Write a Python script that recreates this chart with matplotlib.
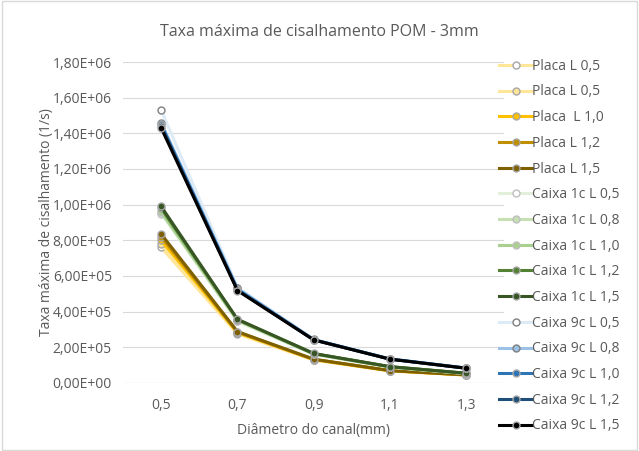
import numpy as np
import matplotlib.pyplot as plt

plt.rcParams['font.family'] = ['Open Sans', 'DejaVu Sans']

diametros = ["0,5", "0,7", "0,9", "1,1", "1,3"]

series_names = [
    "Placa L 0,5", "Placa L 0,5", "Placa  L 1,0", "Placa L 1,2", "Placa L 1,5",
    "Caixa 1c L 0,5", "Caixa 1c L 0,8", "Caixa 1c L 1,0", "Caixa 1c L 1,2", "Caixa 1c L 1,5",
    "Caixa 9c L 0,5", "Caixa 9c L 0,8", "Caixa 9c L 1,0", "Caixa 9c L 1,2", "Caixa 9c L 1,5",
]

placa_05a = [7.6e5, 2.75e5, 1.28e5, 6.7e4, 4.3e4]
placa_05b = [7.8e5, 2.78e5, 1.29e5, 6.8e4, 4.4e4]
placa_10 = [8.0e5, 2.82e5, 1.31e5, 6.8e4, 4.5e4]
placa_12 = [8.2e5, 2.85e5, 1.32e5, 6.9e4, 4.5e4]
placa_15 = [8.35e5, 2.88e5, 1.33e5, 6.9e4, 4.5e4]
caixa1_05 = [9.5e5, 3.45e5, 1.60e5, 8.8e4, 5.2e4]
caixa1_08 = [9.6e5, 3.5e5, 1.62e5, 8.9e4, 5.3e4]
caixa1_10 = [9.6e5, 3.52e5, 1.63e5, 9.0e4, 5.3e4]
caixa1_12 = [9.8e5, 3.55e5, 1.64e5, 9.1e4, 5.4e4]
caixa1_15 = [9.9e5, 3.57e5, 1.65e5, 9.1e4, 5.4e4]
caixa9_05 = [1.53e6, 5.35e5, 2.45e5, 1.35e5, 8.4e4]
caixa9_08 = [1.46e6, 5.3e5, 2.43e5, 1.34e5, 8.3e4]
caixa9_10 = [1.45e6, 5.25e5, 2.42e5, 1.34e5, 8.3e4]
caixa9_12 = [1.44e6, 5.2e5, 2.41e5, 1.33e5, 8.2e4]
caixa9_15 = [1.43e6, 5.18e5, 2.41e5, 1.33e5, 8.2e4]

all_values = [placa_05a, placa_05b, placa_10, placa_12, placa_15,
              caixa1_05, caixa1_08, caixa1_10, caixa1_12, caixa1_15,
              caixa9_05, caixa9_08, caixa9_10, caixa9_12, caixa9_15]

line_colors = ["#FFE699", "#FFE699", "#FFC000", "#BF8F00", "#7F6000",
               "#E2EFDA", "#C6E0B4", "#A9D08E", "#548235", "#375623",
               "#DDEBF7", "#9BC2E6", "#2E75B6", "#1F4E79", "#000000"]
face_colors = ["white", "#FFE699", "#FFC000", "#BF8F00", "#7F6000",
               "white", "#C6E0B4", "#A9D08E", "#548235", "#375623",
               "white", "#9BC2E6", "#2E75B6", "#1F4E79", "#000000"]
edge_colors = ["#A6A6A6", "#A6A6A6", "#A6A6A6", "#A6A6A6", "#A6A6A6",
               "#BFBFBF", "#BFBFBF", "#BFBFBF", "#A6A6A6", "#A6A6A6",
               "#7F7F7F", "#7F7F7F", "#A6A6A6", "#A6A6A6", "#A6A6A6"]


def fmt(v, pos):
    m, e = f"{v:.2E}".split("E")
    return f"{m.replace('.', ',')}E{e}"


def main():
    fig = plt.figure(figsize=(6.39, 4.51), dpi=100)
    ax = fig.add_axes([0.1925, 0.151, 0.597, 0.7115])
    x = np.arange(len(diametros))

    for name, vals, lc, fc, ec in zip(series_names, all_values, line_colors, face_colors, edge_colors):
        ax.plot(x, vals, color=lc, lw=2.2, marker="o", markersize=5,
                markerfacecolor=fc, markeredgecolor=ec, markeredgewidth=1.0, label=name)

    ax.set_xlim(-0.5, len(diametros) - 0.5)
    ax.set_ylim(0, 1.8e6)
    ax.set_yticks(np.arange(0, 1.8e6 + 1, 2e5))
    ax.yaxis.set_major_formatter(plt.FuncFormatter(fmt))
    ax.set_xticks(x)
    ax.set_xticklabels(diametros)
    ax.tick_params(length=0, labelsize=10, labelcolor="#595959")
    ax.tick_params(axis="y", pad=8)
    ax.tick_params(axis="x", pad=11)
    ax.grid(axis="y", color="#D9D9D9", lw=0.8)
    ax.set_axisbelow(True)
    for s in ax.spines.values():
        s.set_visible(False)
    ax.axhline(0, color="#D9D9D9", lw=0.8, zorder=0)

    ax.set_xlabel("Diâmetro do canal(mm)", fontsize=10, color="#595959", labelpad=7)
    ax.set_ylabel("Taxa máxima de cisalhamento (1/s)", fontsize=10, color="#595959", labelpad=-1)
    fig.text(0.5, 0.93, "Taxa máxima de cisalhamento POM - 3mm", ha="center", va="center",
             fontsize=11.5, color="#595959")

    fig.legend(loc="upper left", bbox_to_anchor=(0.772, 0.882), frameon=False,
               fontsize=10, labelcolor="#595959", handlelength=2.4, handletextpad=0.0,
               labelspacing=0.77, borderaxespad=0)

    fig.add_artist(plt.Rectangle((0.003, 0.003), 0.994, 0.994, transform=fig.transFigure,
                                 fill=False, edgecolor="#D9D9D9", lw=1))
    plt.savefig("out.png", dpi=100)
    plt.close()


if __name__ == "__main__":
    main()
